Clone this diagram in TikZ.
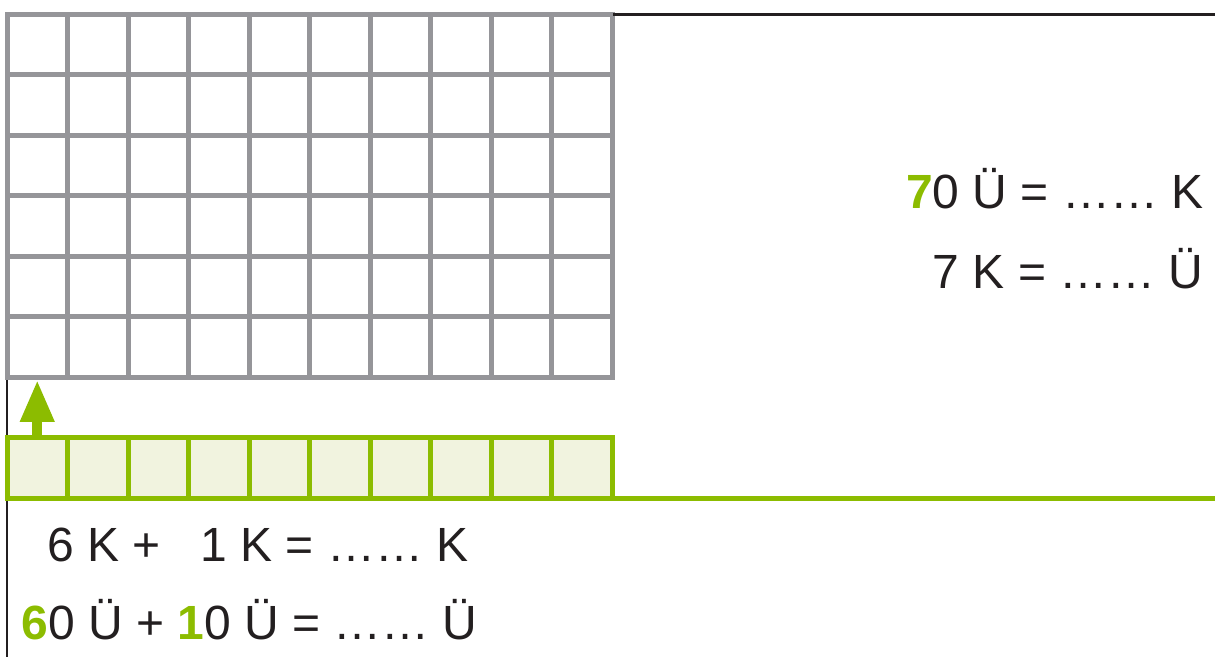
\documentclass[tikz,border=0pt]{standalone}
\usepackage{fontspec}
\setmainfont{Liberation Sans}
\usetikzlibrary{arrows.meta}
\definecolor{grn}{HTML}{8CBC00}
\definecolor{grnfill}{HTML}{F1F3DF}
\definecolor{gridgray}{HTML}{959599}
\definecolor{ink}{HTML}{231F20}
\newcommand{\gd}[1]{{\bfseries\color{grn}#1}}
\begin{document}
\begin{tikzpicture}[x=0.5pt,y=-0.5pt,
  gridline/.style={draw=gridgray,line width=2.5pt,line cap=rect},
  tencell/.style={draw=grn,fill=grnfill,line width=2.5pt,minimum size=30.25pt,inner sep=0pt,outer sep=0pt},
  uparrow/.style={draw=grn,line width=5pt,-{Triangle[width=16pt,length=21pt]}},
  sum/.style={text=ink,font=\fontsize{24}{29}\selectfont,inner sep=0pt}]
\useasboundingbox (0,0) rectangle (1215,657);
\foreach \i in {0,...,10} \draw[gridline] ({7+60.5*\i},14.5) -- ({7+60.5*\i},377.5);
\foreach \j in {0,...,6} \draw[gridline] (7,{14.5+60.5*\j}) -- (612,{14.5+60.5*\j});
\coordinate (gridbottom) at (7,380);
\draw[ink,line width=1.1pt] (gridbottom) -- (7,657);
\draw[ink,line width=1.2pt] (613,14.5) -- (1215,14.5);
\foreach \i in {0,...,9} \node[tencell] (t\i) at ({37.25+60.5*\i},468.25) {};
\draw[grn,line width=2.5pt] (t9.south east) -- (1215,498.5);
\draw[uparrow] (t0.north) -- (t0.north |- gridbottom);
\node[sum,anchor=base east] (ueK) at (1204,209) {\gd{7}0 Ü = …… K};
\node[sum,anchor=base east] (kUe) at (1204,289) {7 K = …… Ü};
\node[sum,anchor=base west] (addA) at (47,561) {6 K +};
\node[sum,anchor=base west] (addB) at (200,561) {1 K = …… K};
\node[sum,anchor=base west] (addC) at (21,639) {\gd{6}0 Ü + \gd{1}0 Ü = …… Ü};
\end{tikzpicture}
\end{document}
